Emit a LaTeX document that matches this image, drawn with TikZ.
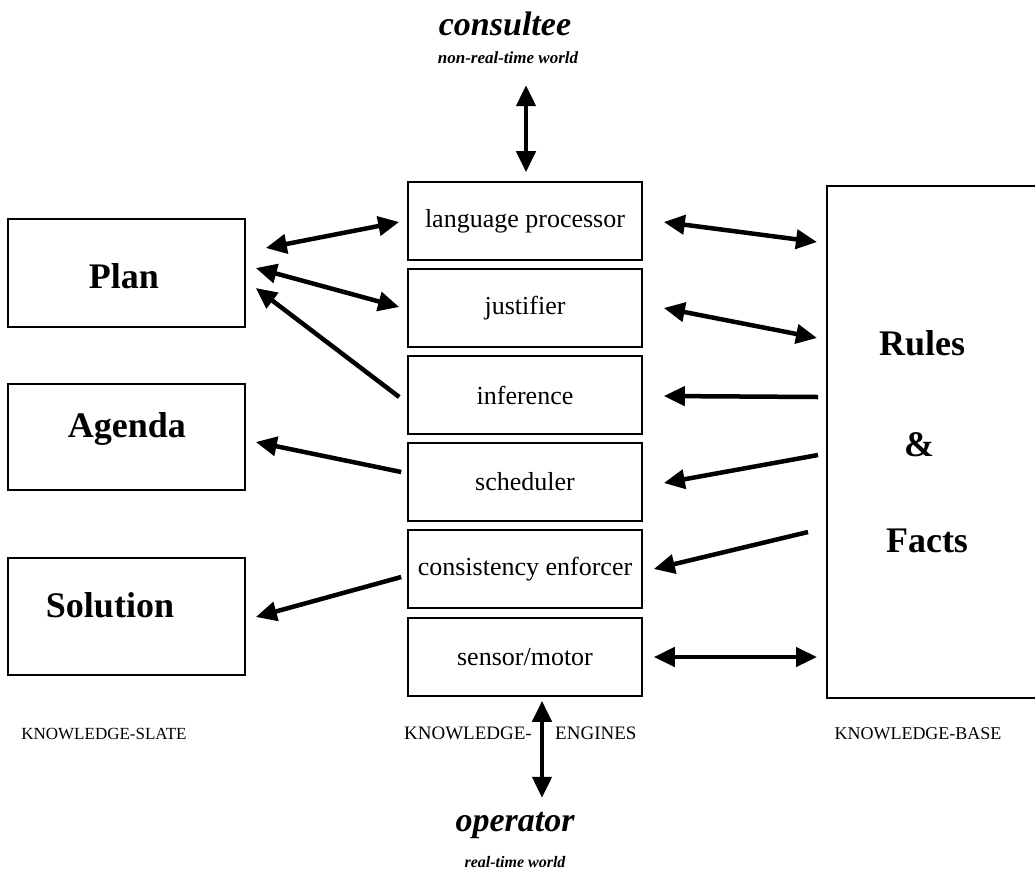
\documentclass[tikz,border=0pt]{standalone}
\usepackage{fontspec}
\setmainfont{Liberation Serif}
\usetikzlibrary{arrows.meta,calc}
\begin{document}
\begin{tikzpicture}[x=1pt,y=-1pt,
  box/.style={draw, line width=1.6pt, inner sep=0pt},
  slate/.style={box, minimum width=237pt},
  engine/.style={box, minimum width=234pt, minimum height=78pt, font=\fontsize{26}{30}\selectfont},
  big/.style={font=\fontsize{36}{42}\selectfont\bfseries, inner sep=0pt},
  world/.style={font=\fontsize{34}{40}\selectfont\bfseries\itshape, inner sep=0pt, anchor=base},
  sub/.style={font=\fontsize{17}{20}\selectfont\bfseries\itshape, inner sep=0pt, anchor=base},
  caption/.style={font=\fontsize{19}{22}\selectfont, inner sep=0pt, anchor=base},
  conn/.style={line width=4.5pt, -{Triangle[length=21pt,width=19pt]}},
  conn2/.style={line width=4.5pt, {Triangle[length=21pt,width=19pt]}-{Triangle[length=21pt,width=19pt]}}
]
\useasboundingbox (0,0) rectangle (1035,876);

% knowledge slate
\node[slate, minimum height=108pt] (plan) at (126.5,273) {};
\node[slate, minimum height=106pt] (agenda) at (126.5,437) {};
\node[slate, minimum height=117pt] (solution) at (126.5,616.5) {};
\node[big] (plantext) at (124,276) {Plan};
\node[big] (agendatext) at (127,429) {Agenda};
\node[big] (solutiontext) at (110,605) {Solution};

% knowledge engines
\node[engine] (lang) at (525,221) {language processor};
\node[engine] (just) at (525,308) {justifier};
\node[engine] (inf) at (525,395) {inference};
\node[engine] (sched) at (525,482) {scheduler};
\node[engine] (cons) at (525,569) {consistency enforcer};
\node[engine] (sensor) at (525,657) {sensor/motor};

% knowledge base
\node[box, anchor=north west, minimum width=225pt, minimum height=512pt] (kb) at (826,185) {};
\node[big] (rules) at (922,343) {Rules};
\node[big] (amp) at (919,445) {\&};
\node[big] (facts) at (927,541) {Facts};

% worlds
\node[world] (consultee) at (505,35) {consultee};
\node[sub] (nrt) at (508,63) {non-real-time world};
\node[world] (operator) at (515,831) {operator};
\node[sub, font=\fontsize{16}{19}\selectfont\bfseries\itshape] (rt) at (515,867) {real-time world};

% captions
\node[caption, font=\fontsize{17}{20}\selectfont] (capslate) at (104,739) {KNOWLEDGE-SLATE};
\node[caption, anchor=base east] (capke) at (532,739) {KNOWLEDGE-};
\node[caption, anchor=base west] (capeng) at (555,739) {ENGINES};
\node[caption, font=\fontsize{18}{21}\selectfont] (capbase) at (918,739) {KNOWLEDGE-BASE};

% left arrows
\draw[conn2] ($(plan.east)+(20,-25)$) -- ($(lang.west)+(-8,1)$);
\draw[conn2] ($(plan.east)+(10,-5)$) -- ($(just.west)+(-8,-1)$);
\draw[conn] ($(inf.west)+(-8,2)$) -- ($(plan.east)+(10,15)$);
\draw[conn] ($(sched.west)+(-6,-10)$) -- ($(agenda.east)+(10,5)$);
\draw[conn] ($(cons.west)+(-6,8)$) -- ($(solution.east)+(10,0.5)$);

% right arrows
\draw[conn2] ($(lang.east)+(21,1)$) -- ($(kb.north west)+(-9,57)$);
\draw[conn2] ($(just.east)+(21,0)$) -- ($(kb.north west)+(-9,153)$);
\draw[conn] ($(kb.north west)+(-8,212)$) -- ($(inf.east)+(21,1)$);
\draw[conn] ($(kb.north west)+(-8,270)$) -- ($(sched.east)+(21,1)$);
\draw[conn] ($(kb.north west)+(-18,347)$) -- ($(cons.east)+(11,0)$);
\draw[conn2] ($(sensor.east)+(11,0)$) -- ($(kb.north west)+(-9,472)$);

% vertical arrows
\draw[conn2] ($(lang.north)+(1,-96)$) -- ($(lang.north)+(1,-9)$);
\draw[conn2] ($(sensor.south)+(17,4)$) -- ($(sensor.south)+(17,101)$);
\end{tikzpicture}
\end{document}
